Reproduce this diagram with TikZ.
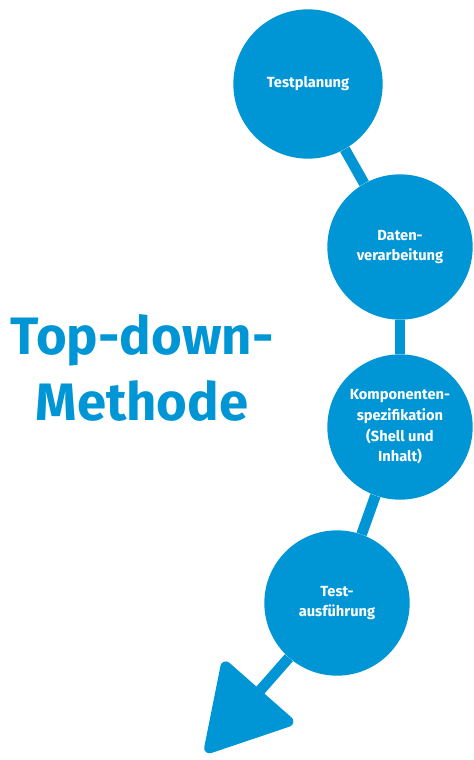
\documentclass[tikz,border=0pt]{standalone}
\usepackage{xcolor}
\usepackage{fontspec}
\setmainfont{Fira Sans}
\usepackage{tikz}
\usetikzlibrary{arrows.meta,positioning,backgrounds}
\definecolor{hpblue}{RGB}{0,150,214}

\begin{document}
\begin{tikzpicture}[
  x=0.75pt, y=-0.75pt,
  stage/.style={circle, fill=hpblue, text=white, inner sep=0pt,
                minimum size=#1, align=center,
                font=\bfseries\fontsize{11}{15.5}\selectfont},
  stage/.default=109pt,
  link/.style={draw=hpblue, line width=8pt},
  heading/.style={text=hpblue, align=center,
                  font=\bfseries\fontsize{39.5}{50}\selectfont}
]
  \useasboundingbox (0,0) rectangle (474,760);

  % the four stages, top to bottom
  \node[stage=112pt] (plan) at (308,84) {Testplanung};
  \node[stage] (data) at (400,247) {Daten-\\verarbeitung};
  \node[stage] (spec) at (400,427) {Komponenten-\\spezifikation\\(Shell und\\Inhalt)};
  \node[stage] (run) at (337,603) {Test-\\ausführung};
  \coordinate (tip) at (206,752);

  % connectors and the final arrow
  \begin{scope}[on background layer]
    \draw[link] (plan) -- (data);
    \draw[link] (data) -- (spec);
    \draw[link] (spec) -- (run);
    \draw[link, -{Triangle[length=66pt, width=74pt, round]}] (run) -- (tip);
  \end{scope}

  \node[heading] (title) at (142,368) {Top-down-\\Methode};
\end{tikzpicture}
\end{document}
